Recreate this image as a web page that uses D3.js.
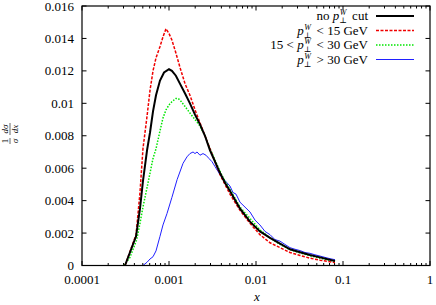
<!DOCTYPE html>
<html>
<head>
<meta charset="utf-8">
<script src="https://cdn.jsdelivr.net/npm/d3@7"></script>
<style>
  body { margin: 0; background: #fff; }
  svg text { font-family: "Liberation Serif", "Times New Roman", "DejaVu Serif", serif; fill: #000; }
</style>
</head>
<body>
<div id="chart"></div>
<script>
// x = momentum fraction, y = 1/sigma dsigma/dx
const xNoCut = [0.000312, 0.000418, 0.000464, 0.000502, 0.000559, 0.000605, 0.000655, 0.000709, 0.000788, 0.000877, 0.001, 0.00108, 0.0012, 0.00134, 0.00153, 0.00174, 0.00199, 0.00227, 0.00259, 0.00296, 0.00338, 0.00386, 0.0044, 0.00502, 0.00655, 0.00853, 0.0111, 0.0145, 0.0189, 0.0246, 0.0321, 0.0418, 0.0545, 0.0809];
const yNoCut = [0, 0.0018, 0.0035, 0.0052, 0.0071, 0.0082, 0.0095, 0.0105, 0.0114, 0.0119, 0.0121, 0.0120, 0.0117, 0.0112, 0.0106, 0.0100, 0.0093, 0.0087, 0.0080, 0.0071, 0.0064, 0.0057, 0.0051, 0.0046, 0.0035, 0.0027, 0.0021, 0.0017, 0.00135, 0.0010, 0.00082, 0.00065, 0.0005, 0.00028];

const xLow = [0.000312, 0.000418, 0.000464, 0.000502, 0.000559, 0.000605, 0.000655, 0.000709, 0.000788, 0.000853, 0.000924, 0.001, 0.00108, 0.0012, 0.00134, 0.00153, 0.00174, 0.00199, 0.00227, 0.00259, 0.00296, 0.00338, 0.00386, 0.0044, 0.00502, 0.00655, 0.00853, 0.0111, 0.0145, 0.0189, 0.0246, 0.0321, 0.0418, 0.0545, 0.0809];
const yLow = [0, 0.0019, 0.0045, 0.0072, 0.0092, 0.0108, 0.0120, 0.0128, 0.0135, 0.0141, 0.0146, 0.0143, 0.0139, 0.0131, 0.0122, 0.0112, 0.0105, 0.0096, 0.0088, 0.0080, 0.0072, 0.0064, 0.0056, 0.0050, 0.0044, 0.0034, 0.0026, 0.0019, 0.0014, 0.0011, 0.0008, 0.00062, 0.00045, 0.00033, 0.00018];

const xMid = [0.000304, 0.000356, 0.000426, 0.000464, 0.000502, 0.000559, 0.000605, 0.000655, 0.000709, 0.000788, 0.000853, 0.000924, 0.001, 0.00108, 0.0012, 0.00127, 0.00134, 0.00153, 0.00174, 0.00199, 0.00227, 0.00259, 0.00296, 0.00338, 0.00386, 0.0044, 0.00502, 0.00655, 0.00853, 0.0111, 0.0145, 0.0189, 0.0246, 0.0321, 0.0418, 0.0545, 0.0809];
const yMid = [0, 0.0005, 0.0016, 0.0026, 0.0036, 0.0048, 0.0057, 0.0066, 0.0072, 0.0083, 0.0091, 0.0096, 0.0099, 0.0101, 0.0103, 0.0103, 0.0102, 0.0098, 0.0094, 0.0090, 0.0086, 0.0080, 0.0072, 0.0065, 0.0058, 0.0052, 0.0047, 0.0036, 0.0029, 0.0022, 0.0017, 0.0013, 0.00098, 0.00078, 0.0006, 0.00045, 0.00025];

const xHigh = [0.000502, 0.000559, 0.000605, 0.000655, 0.000709, 0.000788, 0.000853, 0.000948, 0.00108, 0.00124, 0.00145, 0.00161, 0.00174, 0.00189, 0.00199, 0.0021, 0.00227, 0.00246, 0.00266, 0.00288, 0.00312, 0.00338, 0.00366, 0.00396, 0.00429, 0.00464, 0.00502, 0.00544, 0.00589, 0.00655, 0.00748, 0.00853, 0.00974, 0.0111, 0.0127, 0.0145, 0.0165, 0.0189, 0.0215, 0.0246, 0.0281, 0.0321, 0.0366, 0.0418, 0.0476, 0.0545, 0.0621, 0.0709, 0.0809];
const yHigh = [0, 0.0002, 0.0004, 0.00054, 0.0009, 0.0018, 0.0025, 0.0032, 0.0042, 0.0053, 0.0063, 0.0067, 0.0069, 0.0070, 0.0069, 0.0070, 0.0068, 0.0069, 0.0068, 0.0066, 0.0064, 0.0061, 0.0058, 0.0055, 0.0053, 0.0051, 0.0049, 0.0045, 0.0044, 0.0039, 0.0036, 0.0033, 0.0028, 0.0025, 0.0021, 0.0019, 0.0016, 0.0015, 0.0013, 0.0011, 0.0010, 0.00092, 0.0008, 0.00075, 0.00066, 0.00058, 0.0005, 0.00042, 0.00036];

const xTicks = [0.0001, 0.001, 0.01, 0.1, 1];
const xTickLabels = ["0.0001", "0.001", "0.01", "0.1", "1"];
const yTicks = [0, 0.002, 0.004, 0.006, 0.008, 0.01, 0.012, 0.014, 0.016];
const yTickLabels = ["0", "0.002", "0.004", "0.006", "0.008", "0.01", "0.012", "0.014", "0.016"];

const W = 436, Ht = 305;
const m = { t: 6, r: 6, b: 39.5, l: 82 };
const svg = d3.select("#chart").append("svg").attr("width", W).attr("height", Ht);

const x = d3.scaleLog().domain([0.0001, 1]).range([m.l, W - m.r]);
const y = d3.scaleLinear().domain([0, 0.016]).range([Ht - m.b, m.t]);

// minor log ticks
const minor = [];
for (let e = -4; e < 0; e++) for (let k = 2; k <= 9; k++) minor.push(k * Math.pow(10, e));

const x0 = m.l, x1 = W - m.r, y0 = Ht - m.b, y1 = m.t;
const ax = svg.append("g").attr("stroke", "#000").attr("stroke-width", 1);
minor.forEach(v => {
  ax.append("line").attr("x1", x(v)).attr("x2", x(v)).attr("y1", y0).attr("y2", y0 - 2.5);
  ax.append("line").attr("x1", x(v)).attr("x2", x(v)).attr("y1", y1).attr("y2", y1 + 2.5);
});
xTicks.forEach(v => {
  ax.append("line").attr("x1", x(v)).attr("x2", x(v)).attr("y1", y0).attr("y2", y0 - 4.5);
  ax.append("line").attr("x1", x(v)).attr("x2", x(v)).attr("y1", y1).attr("y2", y1 + 4.5);
});
yTicks.forEach(v => {
  ax.append("line").attr("x1", x0).attr("x2", x0 + 4.5).attr("y1", y(v)).attr("y2", y(v));
  ax.append("line").attr("x1", x1).attr("x2", x1 - 4.5).attr("y1", y(v)).attr("y2", y(v));
});

svg.append("g").selectAll("text").data(xTicks).join("text")
  .attr("x", d => x(d)).attr("y", y0 + 18).attr("text-anchor", "middle")
  .attr("font-size", 13).text((d, i) => xTickLabels[i]);
svg.append("g").selectAll("text").data(yTicks).join("text")
  .attr("x", x0 - 8).attr("y", d => y(d) + 4.5).attr("text-anchor", "end")
  .attr("font-size", 13).text((d, i) => yTickLabels[i]);

const line = d3.line().x(d => x(d[0])).y(d => y(d[1]));
const series = [
  { xs: xNoCut, ys: yNoCut, color: "#000", w: 2, dash: null },
  { xs: xLow, ys: yLow, color: "#f00000", w: 1.5, dash: "3,1.5" },
  { xs: xMid, ys: yMid, color: "#00e600", w: 1.5, dash: "1.5,1.5" },
  { xs: xHigh, ys: yHigh, color: "#2020ff", w: 1, dash: null }
];
series.slice().reverse().forEach(s => {
  svg.append("path").datum(s.xs.map((v, i) => [v, s.ys[i]]))
    .attr("fill", "none").attr("stroke", s.color).attr("stroke-width", s.w)
    .attr("stroke-dasharray", s.dash).attr("d", line);
});

// frame
svg.append("rect").attr("x", x0).attr("y", y1).attr("width", x1 - x0).attr("height", y0 - y1)
  .attr("fill", "none").attr("stroke", "#000").attr("stroke-width", 1.2);

// legend
const lg = svg.append("g");
const legendText = [
  ["no ", "p", " cut"],
  ["", "p", " < 15 GeV"],
  ["15 < ", "p", " < 30 GeV"],
  ["", "p", " > 30 GeV"]
];
legendText.forEach((t, i) => {
  const yy = 20 + i * 14.5;
  const tx = lg.append("text").attr("x", 368).attr("y", yy).attr("text-anchor", "end").attr("font-size", 13);
  tx.append("tspan").text(t[0]);
  tx.append("tspan").attr("font-style", "italic").text(t[1]);
  tx.append("tspan").attr("font-size", 8).attr("font-style", "italic").attr("dy", -5).attr("dx", 0.5).text("W");
  tx.append("tspan").attr("font-size", 8).attr("dy", 8).attr("dx", -7).text("\u22a5");
  tx.append("tspan").attr("dy", -3).attr("dx", 2).text(t[2]);
  const s = series[i];
  lg.append("line").attr("x1", 376).attr("x2", 414).attr("y1", yy - 4).attr("y2", yy - 4)
    .attr("stroke", s.color).attr("stroke-width", s.w).attr("stroke-dasharray", s.dash);
});

// axis titles
svg.append("text").attr("x", (x0 + x1) / 2 + 1).attr("y", 301).attr("text-anchor", "middle")
  .attr("font-size", 13).attr("font-style", "italic").text("x");

const yl = svg.append("g").attr("transform", "translate(10,134) rotate(-90)");
yl.append("text").attr("x", -7).attr("y", -2).attr("text-anchor", "middle").attr("font-size", 9).text("1");
yl.append("line").attr("x1", -10).attr("x2", -4).attr("y1", 0).attr("y2", 0).attr("stroke", "#000").attr("stroke-width", 0.6);
yl.append("text").attr("x", -7).attr("y", 7.5).attr("text-anchor", "middle").attr("font-size", 9).attr("font-style", "italic").text("\u03c3");
yl.append("text").attr("x", 5).attr("y", -2).attr("text-anchor", "middle").attr("font-size", 9).attr("font-style", "italic").text("d\u03c3");
yl.append("line").attr("x1", -1).attr("x2", 11).attr("y1", 0).attr("y2", 0).attr("stroke", "#000").attr("stroke-width", 0.6);
yl.append("text").attr("x", 5).attr("y", 7.5).attr("text-anchor", "middle").attr("font-size", 9).attr("font-style", "italic").text("dx");
</script>
</body>
</html>
